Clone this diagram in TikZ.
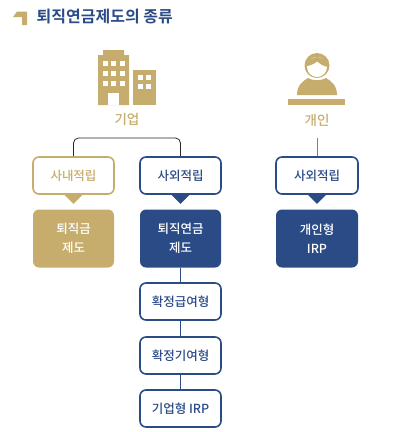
\documentclass[tikz,border=0pt]{standalone}
\usepackage{fontspec}
\setmainfont[BoldFont={Noto Sans CJK KR Bold}]{Noto Sans CJK KR Medium}
\definecolor{navy}{HTML}{2B4B87}
\definecolor{gold}{HTML}{C6AD6E}
\tikzset{
  x=1pt,y=-1pt,
  boxbase/.style={rounded corners=6pt,minimum width=81pt,minimum height=37pt,inner sep=0pt,align=center,font=\fontsize{12.5}{15}\selectfont,line width=1.6pt,fill=white},
  navybox/.style={boxbase,draw=navy,text=navy},
  goldbox/.style={boxbase,draw=gold,text=gold},
  navysolid/.style={boxbase,fill=navy,text=white,minimum height=58pt,font=\fontsize{12.5}{19}\selectfont},
  goldsolid/.style={boxbase,fill=gold,text=white,minimum height=58pt,font=\fontsize{12.5}{19}\selectfont},
  headlabel/.style={text=gold,font=\fontsize{13.5}{15}\selectfont,inner sep=0pt},
  link/.style={line width=0.8pt},
}
\begin{document}
\begin{tikzpicture}
\useasboundingbox (0,0) rectangle (400,432);
% title
\fill[gold] (13,17) -- (17,11.5) -- (27,11.5) -- (27,25) -- (22,25) -- (22,17) -- cycle;
\node[anchor=west,inner sep=0pt,text=navy,font=\fontsize{16}{18}\selectfont\bfseries] (title) at (36.5,17) {퇴직연금제도의 종류};
% building
\fill[gold] (98,105) -- (98,55) -- (103,55) -- (103,50) -- (124,50) -- (124,55) -- (129,55) -- (129,105) -- cycle;
\fill[gold] (133,70) rectangle (156,105);
\foreach \cx in {103,111,120}\foreach \cy in {61,71,81}{\fill[white] (\cx,\cy) rectangle ++(5,5);}
\fill[white] (108,93) rectangle (119,105);
\foreach \cx in {138,146}\foreach \cy in {75,84}{\fill[white] (\cx,\cy) rectangle ++(5,5);}
\node[headlabel] (giup) at (127,119) {기업};
% person
\fill[gold] (297,95) .. controls (297,85) and (303,81) .. (308,78) .. controls (313,81) and (321,81) .. (326,78) .. controls (331,81) and (337,85) .. (337,95) -- cycle;
\fill[gold] (317,65.5) circle[radius=12.5];
\fill[white] (317,67) circle[radius=10];
\fill[gold] (306,66) .. controls (307,59) and (313,58) .. (317,57) .. controls (322,58) and (328,60) .. (328,67) .. controls (323,66) and (320,64) .. (317,61.5) .. controls (314,64) and (310,66) .. (306,66) -- cycle;
\fill[gold] (288,99) rectangle (345,105);
\node[headlabel] (gaein) at (317,120) {개인};
% boxes
\node[goldbox] (naebu) at (73.5,175.5) {사내적립};
\node[navybox] (oebu) at (180.5,175.5) {사외적립};
\node[navybox,minimum width=82pt] (oebu2) at (317,175.5) {사외적립};
\node[goldsolid,line width=0pt] (geum) at (73.5,238.5) {퇴직금\\제도};
\node[navysolid,line width=0pt] (yeon) at (180.5,238.5) {퇴직연금\\제도};
\node[navysolid,line width=0pt,minimum width=82pt] (irp) at (317,238.5) {개인형\\IRP};
\node[navybox] (db) at (180.5,301.5) {확정급여형};
\node[navybox] (dc) at (180.5,355.5) {확정기여형};
\node[navybox] (cirp) at (180.5,408.5) {기업형 IRP};
% pointers
\fill[gold] ([xshift=-9pt]naebu.south) -- ([xshift=9pt]naebu.south) -- ([yshift=-9pt]naebu.south) -- cycle;
\fill[navy] ([xshift=-9pt]oebu.south) -- ([xshift=9pt]oebu.south) -- ([yshift=-9pt]oebu.south) -- cycle;
\fill[navy] ([xshift=-9pt]oebu2.south) -- ([xshift=9pt]oebu2.south) -- ([yshift=-9pt]oebu2.south) -- cycle;
% connectors
\coordinate (split) at (127,138);
\draw[link,draw=black!85,rounded corners=5pt] (naebu.north) -- (naebu.north |- split) -- (oebu.north |- split) -- (oebu.north);
\coordinate (top) at (317,138);
\draw[link,draw=black!50] (top) -- (oebu2.north);
\draw[link,draw=navy] (yeon) -- (db);
\draw[link,draw=navy] (db) -- (dc);
\draw[link,draw=navy] (dc) -- (cirp);
\end{tikzpicture}
\end{document}
